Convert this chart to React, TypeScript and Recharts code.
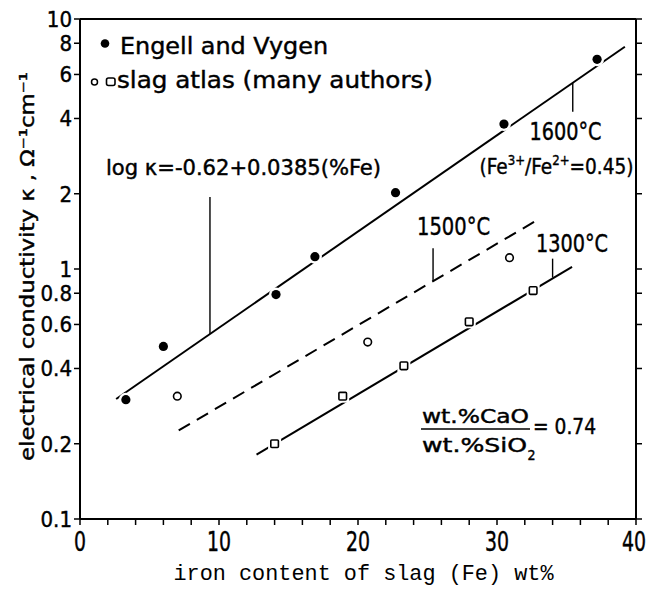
import React from 'react';
import { ScatterChart, Scatter, XAxis, YAxis, ReferenceLine } from 'recharts';

const COND = '"DejaVu Sans Condensed", "DejaVu Sans", sans-serif';
const MONO = '"Liberation Mono", "DejaVu Sans Mono", monospace';

// Engell and Vygen, 1600°C
const engellFe = [3.3, 6.0, 14.1, 16.9, 22.7, 30.5, 37.2];
const engellK = [0.3, 0.49, 0.79, 1.12, 2.02, 3.8, 6.9];

// slag atlas, 1500°C (open circles)
const atlasFe = [7.0, 20.7, 30.9];
const atlasK = [0.31, 0.51, 1.11];

// slag atlas, 1300°C (open squares)
const atlas1300Fe = [14.0, 18.9, 23.3, 28.0, 32.6];
const atlas1300K = [0.2, 0.31, 0.41, 0.615, 0.82];

// 1600°C fit: log κ = -0.62 + 0.0385(%Fe)
const fitIntercept = -0.62;
const fitSlope = 0.0385;
const fit1600Fe = [2.6, 39.2];

const fit1500Fe = [7.1, 32.9];
const fit1500K = [0.226, 1.57];

const fit1300Fe = [12.7, 35.4];
const fit1300K = [0.181, 1.02];

const xTicks = [0, 2, 4, 6, 8, 10, 12, 14, 16, 18, 20, 22, 24, 26, 28, 30, 32, 34, 36, 38, 40];
const xLabels = [0, 10, 20, 30, 40];
const yTicks = [0.1, 0.2, 0.4, 0.6, 0.8, 1, 2, 4, 6, 8, 10];

const kappa1600 = (fe: number) => Math.pow(10, fitIntercept + fitSlope * fe);

const zip = (xs: number[], ys: number[]) => xs.map((x, i) => ({ x, y: ys[i] }));

const engell = zip(engellFe, engellK);
const atlas = zip(atlasFe, atlasK);
const atlas1300 = zip(atlas1300Fe, atlas1300K);

// leader lines: [Fe, κ at the curve, κ at the label end]
const leaders = [
  [9.35, kappa1600(9.35), 1.94],
  [35.45, kappa1600(35.45), 4.26],
  [25.4, 0.895, 1.21],
  [34.0, 0.925, 1.1],
];

const axisStyle = { stroke: '#000', strokeWidth: 2 };
const tickStyle = { stroke: '#000', strokeWidth: 1.5 };

const FilledDot = ({ cx, cy }: any) => (
  <g>
    <circle cx={cx} cy={cy} r={7} fill="#fff" />
    <circle cx={cx} cy={cy} r={4.6} fill="#000" />
  </g>
);

const OpenDot = ({ cx, cy }: any) => (
  <g>
    <circle cx={cx} cy={cy} r={6} fill="#fff" />
    <circle cx={cx} cy={cy} r={3.8} fill="#fff" stroke="#000" strokeWidth={1.6} />
  </g>
);

const OpenSquare = ({ cx, cy }: any) => (
  <g>
    <rect x={cx - 6.5} y={cy - 6.5} width={13} height={13} fill="#fff" />
    <rect x={cx - 3.8} y={cy - 3.8} width={7.6} height={7.6} rx={1} fill="#fff" stroke="#000" strokeWidth={1.6} />
  </g>
);

const NoTick = () => <g />;

// slightly heavier glyphs, like the printed figure
const txt = { fontFamily: COND, fill: '#000', stroke: '#000', strokeWidth: 0.4 };

const XTick = ({ x, y, payload }: any) => {
  if (!xLabels.includes(payload.value)) return <g />;
  const s = String(payload.value);
  return (
    <text x={Math.min(x, 634)} y={y + 24} textAnchor="middle" fontSize={26} {...txt}
      textLength={s.length * 12} lengthAdjust="spacingAndGlyphs">
      {s}
    </text>
  );
};

const YTick = ({ x, y, payload }: any) => {
  const s = String(payload.value);
  return (
    <text x={x} y={y} dy="0.36em" textAnchor="end" fontSize={22} {...txt}>
      {s}
    </text>
  );
};

export default function App() {
  return (
    <div style={{ position: 'absolute', left: 0, top: 0, width: 650, height: 589, background: '#fff' }}>
      <ScatterChart width={650} height={589} margin={{ top: 18, right: 13, bottom: 0, left: 0 }}>
        <XAxis
          type="number"
          dataKey="x"
          domain={[0, 40]}
          ticks={xTicks}
          interval={0}
          height={70}
          tickSize={6}
          tickMargin={2}
          axisLine={axisStyle}
          tickLine={tickStyle}
          tick={<XTick />}
          allowDataOverflow
        />
        <XAxis
          xAxisId="top"
          orientation="top"
          type="number"
          domain={[0, 40]}
          ticks={xTicks}
          interval={0}
          height={1}
          tickSize={6}
          axisLine={axisStyle}
          tickLine={tickStyle}
          tick={NoTick}
          allowDataOverflow
        />
        <YAxis
          type="number"
          dataKey="y"
          scale="log"
          domain={[0.1, 10]}
          ticks={yTicks}
          interval={0}
          width={80}
          tickSize={6}
          tickMargin={2}
          axisLine={axisStyle}
          tickLine={tickStyle}
          tick={<YTick />}
          allowDataOverflow
        />
        <YAxis
          yAxisId="right"
          orientation="right"
          type="number"
          scale="log"
          domain={[0.1, 10]}
          ticks={yTicks}
          interval={0}
          width={1}
          tickSize={6}
          axisLine={axisStyle}
          tickLine={tickStyle}
          tick={NoTick}
          allowDataOverflow
        />

        <ReferenceLine
          segment={fit1600Fe.map((x) => ({ x, y: kappa1600(x) }))}
          stroke="#000"
          strokeWidth={2}
        />
        <ReferenceLine
          segment={zip(fit1500Fe, fit1500K)}
          stroke="#000"
          strokeWidth={2}
          strokeDasharray="13 8"
        />
        <ReferenceLine segment={zip(fit1300Fe, fit1300K)} stroke="#000" strokeWidth={2} />
        {leaders.map(([fe, k0, k1], i) => (
          <ReferenceLine
            key={i}
            segment={[{ x: fe, y: k0 }, { x: fe, y: k1 }]}
            stroke="#000"
            strokeWidth={1.4}
          />
        ))}

        <Scatter data={engell} shape={FilledDot} isAnimationActive={false} />
        <Scatter data={atlas} shape={OpenDot} isAnimationActive={false} />
        <Scatter data={atlas1300} shape={OpenSquare} isAnimationActive={false} />
      </ScatterChart>

      <svg width={650} height={589} style={{ position: 'absolute', left: 0, top: 0, pointerEvents: 'none' }}>
        {/* legend */}
        <circle cx={105} cy={43.5} r={4.3} fill="#000" />
        <text x={120} y={53.5} fontSize={23} {...txt} textLength={208} lengthAdjust="spacingAndGlyphs">
          Engell and Vygen
        </text>
        <circle cx={94.5} cy={82} r={3} fill="#fff" stroke="#000" strokeWidth={1.5} />
        <rect x={106.5} y={78} width={8.5} height={7.5} rx={2} fill="#fff" stroke="#000" strokeWidth={1.6} />
        <text x={117} y={88} fontSize={23} {...txt} textLength={316} lengthAdjust="spacingAndGlyphs">
          slag atlas (many authors)
        </text>

        {/* curve labels */}
        <text x={106} y={175} fontSize={21} {...txt} textLength={275} lengthAdjust="spacingAndGlyphs">
          log κ=-0.62+0.0385(%Fe)
        </text>
        <text x={529.5} y={140} fontSize={24} {...txt} textLength={72} lengthAdjust="spacingAndGlyphs">
          1600°C
        </text>
        <text x={479.5} y={174} fontSize={22} {...txt} textLength={154} lengthAdjust="spacingAndGlyphs">
          (Fe<tspan dy={-9} fontSize={14}>3+</tspan>
          <tspan dy={9}>/Fe</tspan>
          <tspan dy={-9} fontSize={14}>2+</tspan>
          <tspan dy={9}>=0.45)</tspan>
        </text>
        <text x={417} y={235} fontSize={24} {...txt} textLength={73} lengthAdjust="spacingAndGlyphs">
          1500°C
        </text>
        <text x={536} y={252} fontSize={24} {...txt} textLength={72} lengthAdjust="spacingAndGlyphs">
          1300°C
        </text>

        {/* basicity ratio */}
        <text x={422} y={422.5} fontSize={19.5} {...txt} textLength={107} lengthAdjust="spacingAndGlyphs">
          wt.%CaO
        </text>
        <line x1={421} y1={429} x2={530} y2={429} stroke="#000" strokeWidth={1.6} />
        <text x={422} y={452} fontSize={19.5} {...txt} textLength={105} lengthAdjust="spacingAndGlyphs">
          wt.%SiO
        </text>
        <text x={527.5} y={460} fontSize={14} {...txt}>
          2
        </text>
        <text x={533} y={434} fontSize={21} {...txt} textLength={63} lengthAdjust="spacingAndGlyphs">
          = 0.74
        </text>

        {/* axis titles */}
        <text x={173.5} y={580} fontSize={22} fontFamily={MONO} fill="#000" textLength={380} lengthAdjust="spacingAndGlyphs">
          iron content of slag (Fe) wt%
        </text>
        <text
          x={34}
          y={461}
          transform="rotate(-90, 34, 461)"
          fontSize={19.5}
          {...txt}
          textLength={389}
          lengthAdjust="spacingAndGlyphs"
        >
          electrical conductivity κ , Ω⁻¹cm⁻¹
        </text>
      </svg>
    </div>
  );
}
